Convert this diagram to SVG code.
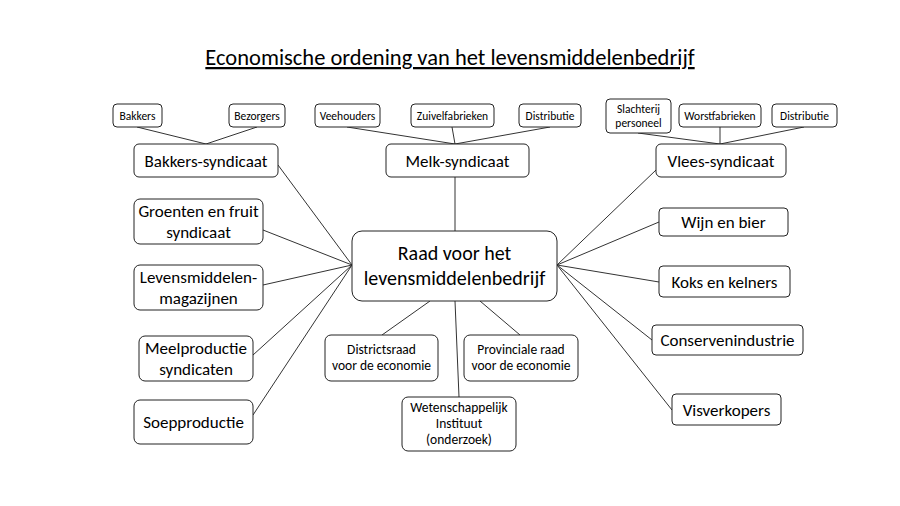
<svg xmlns="http://www.w3.org/2000/svg" width="900" height="506" viewBox="0 0 900 506">
<style>
text{font-family:Calibri,"Liberation Sans",Arial,sans-serif;fill:#000;text-anchor:middle}
rect{fill:#fff;stroke:#222;stroke-width:1}
.s{font-size:11.5px}.m{font-size:17px}.b{font-size:20px}.d{font-size:13.5px}
line{stroke:#333;stroke-width:1}
</style>
<rect x="0" y="0" width="900" height="506" style="fill:#fff;stroke:none"/>
<text x="450" y="65" font-size="22.5" text-decoration="underline">Economische ordening van het levensmiddelenbedrijf</text>
<g id="connectors">
<line x1="137" y1="127" x2="206" y2="144"/><line x1="257" y1="127" x2="206" y2="144"/>
<line x1="347" y1="127" x2="455" y2="144"/><line x1="452" y1="127" x2="455" y2="144"/><line x1="550" y1="127" x2="455" y2="144"/>
<line x1="638" y1="133" x2="720" y2="144"/><line x1="720" y1="127" x2="720" y2="144"/><line x1="804" y1="127" x2="720" y2="144"/>
<line x1="455" y1="177" x2="455" y2="231"/>
<line x1="278" y1="165" x2="352" y2="265"/><line x1="263" y1="230" x2="352" y2="265"/><line x1="263" y1="285" x2="352" y2="265"/><line x1="253" y1="355" x2="352" y2="265"/><line x1="253" y1="415" x2="352" y2="265"/>
<line x1="656" y1="170" x2="557" y2="265"/><line x1="659" y1="222" x2="557" y2="265"/><line x1="659" y1="282" x2="557" y2="265"/><line x1="652" y1="340" x2="557" y2="265"/><line x1="672" y1="410" x2="557" y2="265"/>
<line x1="382" y1="335" x2="430" y2="301"/><line x1="520" y1="335" x2="480" y2="301"/><line x1="459" y1="397" x2="455" y2="301"/>
</g>
<g id="bakkers"><rect x="113" y="104" width="49" height="23" rx="4"/><text class="s" x="137.5" y="119.5">Bakkers</text></g>
<g id="bezorgers"><rect x="229" y="104" width="56" height="23" rx="4"/><text class="s" x="257" y="119.5">Bezorgers</text></g>
<g id="veehouders"><rect x="315" y="104" width="65" height="23" rx="4"/><text class="s" x="347.5" y="119.5">Veehouders</text></g>
<g id="zuivel"><rect x="411" y="104" width="83" height="23" rx="4"/><text class="s" x="452.5" y="119.5">Zuivelfabrieken</text></g>
<g id="distributie1"><rect x="519" y="104" width="62" height="23" rx="4"/><text class="s" x="550" y="119.5">Distributie</text></g>
<g id="slachterij"><rect x="606" y="99" width="65" height="34" rx="4"/><text class="s" x="638.5" y="113">Slachterij</text><text class="s" x="638.5" y="127">personeel</text></g>
<g id="worst"><rect x="679" y="104" width="82" height="23" rx="4"/><text class="s" x="720" y="119.5">Worstfabrieken</text></g>
<g id="distributie2"><rect x="772" y="104" width="65" height="23" rx="4"/><text class="s" x="804.5" y="119.5">Distributie</text></g>
<g id="bakkers-syndicaat"><rect x="134" y="144" width="144" height="33" rx="5"/><text class="m" x="206" y="167">Bakkers-syndicaat</text></g>
<g id="melk"><rect x="386" y="144" width="143" height="33" rx="5"/><text class="m" x="457.5" y="167">Melk-syndicaat</text></g>
<g id="vlees"><rect x="656" y="144" width="130" height="33" rx="5"/><text class="m" x="721" y="167">Vlees-syndicaat</text></g>
<g id="groenten"><rect x="134" y="199" width="129" height="45" rx="6"/><text class="m" x="198.5" y="217">Groenten en fruit</text><text class="m" x="198.5" y="238">syndicaat</text></g>
<g id="magazijnen"><rect x="134" y="265" width="129" height="45" rx="6"/><text class="m" x="198.5" y="283">Levensmiddelen-</text><text class="m" x="198.5" y="304">magazijnen</text></g>
<g id="meel"><rect x="139" y="336" width="114" height="45" rx="6"/><text class="m" x="196" y="354">Meelproductie</text><text class="m" x="196" y="375">syndicaten</text></g>
<g id="soep"><rect x="134" y="400" width="119" height="44" rx="6"/><text class="m" x="193.5" y="428">Soepproductie</text></g>
<g id="raad"><rect x="352" y="231" width="205" height="70" rx="10"/><text class="b" x="454.5" y="260">Raad voor het</text><text class="b" x="454.5" y="285">levensmiddelenbedrijf</text></g>
<g id="wijn"><rect x="659" y="208" width="129" height="28" rx="4"/><text class="m" x="723.5" y="228">Wijn en bier</text></g>
<g id="koks"><rect x="659" y="266" width="131" height="31" rx="4"/><text class="m" x="724.5" y="288">Koks en kelners</text></g>
<g id="conserven"><rect x="652" y="325" width="151" height="30" rx="4"/><text class="m" x="727.5" y="346">Conservenindustrie</text></g>
<g id="vis"><rect x="672" y="394" width="109" height="31" rx="4"/><text class="m" x="726.5" y="416">Visverkopers</text></g>
<g id="districtsraad"><rect x="325" y="335" width="113" height="46" rx="6"/><text class="d" x="381.5" y="354">Districtsraad</text><text class="d" x="381.5" y="370">voor de economie</text></g>
<g id="provinciale"><rect x="464" y="335" width="114" height="46" rx="6"/><text class="d" x="521" y="354">Provinciale raad</text><text class="d" x="521" y="370">voor de economie</text></g>
<g id="wetenschappelijk"><rect x="402" y="397" width="114" height="54" rx="6"/><text class="d" x="459" y="412">Wetenschappelijk</text><text class="d" x="459" y="428">Instituut</text><text class="d" x="459" y="444">(onderzoek)</text></g>
</svg>
